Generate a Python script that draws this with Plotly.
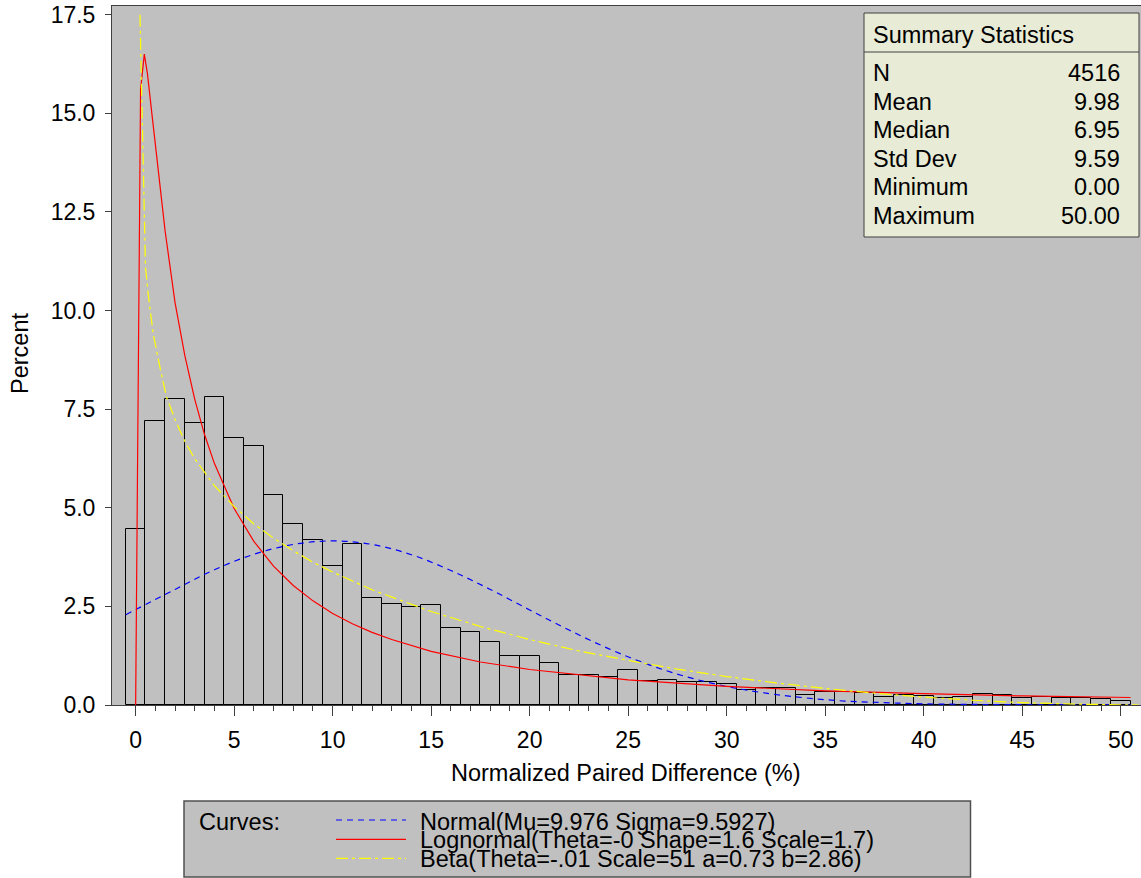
import plotly.graph_objects as go

# ---- data ----
bin_centers = list(range(51))
bin_percent = [4.46, 7.20, 7.75, 7.15, 7.82, 6.77, 6.57, 5.32, 4.60, 4.18,
               3.52, 4.07, 2.71, 2.56, 2.48, 2.54, 1.95, 1.86, 1.59, 1.24,
               1.24, 1.07, 0.75, 0.75, 0.70, 0.90, 0.62, 0.64, 0.58, 0.58,
               0.53, 0.39, 0.43, 0.43, 0.26, 0.32, 0.32, 0.30, 0.20, 0.26,
               0.24, 0.18, 0.21, 0.29, 0.25, 0.17, 0.21, 0.19, 0.17, 0.15,
               0.09]

normal_x = [-0.5, 2, 4, 6, 8, 10, 12, 14, 16, 18, 20, 22, 24, 26, 28, 30,
            32, 34, 36, 38, 40, 44, 50.5]
normal_y = [2.29, 2.93, 3.43, 3.82, 4.07, 4.16, 4.07, 3.81, 3.41, 2.93, 2.41,
            1.90, 1.43, 1.03, 0.71, 0.47, 0.30, 0.18, 0.10, 0.06, 0.03, 0.01, 0.0]

lognormal_x = [0, 0.25, 0.44, 0.6, 0.8, 1, 1.25, 1.5, 2, 2.5, 3, 3.5, 4, 5, 6,
               7, 8, 9, 10, 11, 12, 13, 15, 17.5, 20, 25, 30, 35, 40, 45, 50.5]
lognormal_y = [0, 15.6, 16.5, 16.0, 15.1, 14.2, 13.0, 12.0, 10.2, 8.85, 7.75,
               6.85, 6.12, 4.98, 4.15, 3.52, 3.03, 2.64, 2.32, 2.06, 1.84, 1.66,
               1.36, 1.09, 0.90, 0.635, 0.47, 0.36, 0.29, 0.23, 0.19]

beta_x = [0.22, 0.30, 0.39, 0.5, 0.64, 0.89, 1.23, 1.57, 2, 2.5, 3, 4, 5, 6, 7,
          8, 9, 10, 12, 15, 17.5, 20, 22.5, 25, 27.5, 30, 32.5, 35, 37.5, 40,
          42.5, 45, 48, 50, 50.9]
beta_y = [17.5, 15.6, 13.7, 11.1, 10.4, 9.41, 8.57, 7.8, 7.24, 6.68, 6.24, 5.56,
          5.03, 4.59, 4.23, 3.91, 3.62, 3.37, 2.92, 2.37, 1.99, 1.66, 1.37, 1.13,
          0.91, 0.72, 0.56, 0.42, 0.30, 0.20, 0.12, 0.06, 0.02, 0.0, 0.0]

stat_names = ["N", "Mean", "Median", "Std Dev", "Minimum", "Maximum"]
stat_values = ["4516", "9.98", "6.95", "9.59", "0.00", "50.00"]

curve_labels = ["Normal(Mu=9.976 Sigma=9.5927)",
                "Lognormal(Theta=-0 Shape=1.6 Scale=1.7)",
                "Beta(Theta=-.01 Scale=51 a=0.73 b=2.86)"]
curve_colors = ["#0000FF", "#FF0000", "#FFFF00"]
curve_dashes = ["6px,5px", "solid", "12px,4px,3px,4px"]

x_major_ticks = list(range(0, 51, 5))
x_minor_ticks = [v for v in range(0, 51) if v % 5 != 0]
y_ticks = [0, 2.5, 5.0, 7.5, 10.0, 12.5, 15.0, 17.5]

# ---- geometry helpers (pixel -> paper) ----
W, H = 1141, 878
L, R, T, B = 112, 0, 6, 173
PW, PH = W - L - R, H - T - B


def xp(px):
    return (px - L) / PW


def yp(py):
    return (H - B - py) / PH


FONT = "Liberation Sans, Arial, Helvetica, sans-serif"
BG = "#C0C0C0"
FS = 23.5      # titles / inset text
TFS = 23       # tick labels
LFS = 23.5     # curve legend text

fig = go.Figure()

fig.add_trace(go.Bar(
    x=bin_centers, y=bin_percent, width=1.0,
    marker=dict(color=BG, line=dict(color="#000000", width=1)),
    hoverinfo="x+y", showlegend=False))

for cx, cy, col, dash, lab, shape in [
    (normal_x, normal_y, curve_colors[0], curve_dashes[0], curve_labels[0], "spline"),
    (lognormal_x, lognormal_y, curve_colors[1], curve_dashes[1], curve_labels[1], "linear"),
    (beta_x, beta_y, curve_colors[2], curve_dashes[2], curve_labels[2], "linear"),
]:
    fig.add_trace(go.Scatter(
        x=cx, y=cy, mode="lines", name=lab,
        line=dict(color=col, width=1.2, dash=dash, shape=shape),
        showlegend=False))

shapes = []
annotations = []

# Summary statistics inset
bx0, bx1, by0, by1, bhead = 864, 1139, 13, 237, 52
shapes.append(dict(type="rect", xref="paper", yref="paper",
                   x0=xp(bx0), x1=xp(bx1), y0=yp(by1), y1=yp(by0),
                   fillcolor="#E8EBD5", line=dict(color="#404040", width=1),
                   layer="above"))
shapes.append(dict(type="line", xref="paper", yref="paper",
                   x0=xp(bx0), x1=xp(bx1), y0=yp(bhead), y1=yp(bhead),
                   line=dict(color="#404040", width=1), layer="above"))
annotations.append(dict(text="Summary Statistics", xref="paper", yref="paper",
                        x=xp(871), y=yp(35), xanchor="left", yanchor="middle",
                        showarrow=False, font=dict(size=FS, color="#000")))
row_y = [73, 102, 130, 159, 187, 216]
for name, val, ry in zip(stat_names, stat_values, row_y):
    annotations.append(dict(text=name, xref="paper", yref="paper",
                            x=xp(871), y=yp(ry), xanchor="left", yanchor="middle",
                            showarrow=False, font=dict(size=FS, color="#000")))
    annotations.append(dict(text=val, xref="paper", yref="paper",
                            x=xp(1122), y=yp(ry), xanchor="right", yanchor="middle",
                            showarrow=False, font=dict(size=FS, color="#000")))

# Curves legend box
shapes.append(dict(type="rect", xref="paper", yref="paper",
                   x0=xp(184), x1=xp(970.5), y0=yp(877), y1=yp(801),
                   fillcolor=BG, line=dict(color="#505050", width=1.5),
                   layer="above"))
annotations.append(dict(text="Curves:", xref="paper", yref="paper",
                        x=xp(197), y=yp(822), xanchor="left", yanchor="middle",
                        showarrow=False, font=dict(size=LFS, color="#000")))
line_y = [820, 839.3, 858.3]
text_y = [822, 840.5, 859]
for lab, col, dash, ly, ty in zip(curve_labels, curve_colors, curve_dashes, line_y, text_y):
    shapes.append(dict(type="line", xref="paper", yref="paper",
                       x0=xp(336), x1=xp(406), y0=yp(ly), y1=yp(ly),
                       line=dict(color=col, width=1.2, dash=dash), layer="above"))
    annotations.append(dict(text=lab, xref="paper", yref="paper",
                            x=xp(418), y=yp(ty), xanchor="left", yanchor="middle",
                            showarrow=False, font=dict(size=LFS, color="#000")))

# Axis titles
annotations.append(dict(text="Normalized Paired Difference (%)", xref="paper", yref="paper",
                        x=xp(626), y=yp(773), xanchor="center", yanchor="middle",
                        showarrow=False, font=dict(size=FS, color="#000")))
annotations.append(dict(text="Percent", xref="paper", yref="paper",
                        x=xp(20), y=yp(354), xanchor="center", yanchor="middle",
                        textangle=-90, showarrow=False, font=dict(size=FS, color="#000")))

fig.update_layout(
    width=W, height=H,
    margin=dict(l=L, r=R, t=T, b=B, pad=0),
    paper_bgcolor="#FFFFFF", plot_bgcolor=BG,
    font=dict(family=FONT, size=FS, color="#000000"),
    bargap=0, showlegend=False,
    shapes=shapes, annotations=annotations,
    xaxis=dict(range=[-1.2, 51.03], tickmode="array", tickvals=x_major_ticks,
               ticktext=[str(v) for v in x_major_ticks],
               ticks="outside", ticklen=10, tickwidth=1, tickcolor="#404040",
               showline=True, linecolor="#404040", linewidth=1, mirror=True,
               showgrid=False, zeroline=False, ticklabelstandoff=4,
               tickfont=dict(size=TFS, color="#000"),
               minor=dict(tickmode="array", tickvals=x_minor_ticks, ticks="outside",
                          ticklen=5, tickwidth=1, tickcolor="#404040", showgrid=False)),
    yaxis=dict(range=[0, 17.72], tickmode="array", tickvals=y_ticks,
               ticktext=["%.1f" % v for v in y_ticks],
               ticks="outside", ticklen=6, tickwidth=1, tickcolor="#404040",
               showline=True, linecolor="#404040", linewidth=1, mirror=True,
               showgrid=False, zeroline=False, ticklabelstandoff=5,
               tickfont=dict(size=TFS, color="#000")),
)

fig.write_html("out.html",
               config={"displayModeBar": False},
               post_script="document.body.style.margin='0';document.body.style.padding='0';")
